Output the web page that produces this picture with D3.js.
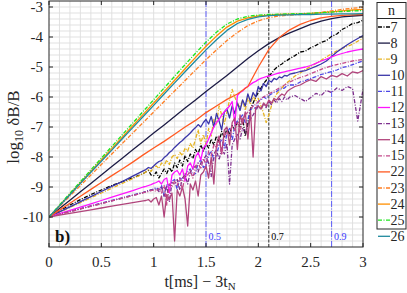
<!DOCTYPE html>
<html><head><meta charset="utf-8">
<script src="https://cdn.jsdelivr.net/npm/d3@7"></script>
<style>body{margin:0;background:#fff}svg{display:block}text{font-family:"Liberation Serif","DejaVu Serif",serif}</style>
</head><body><svg id="c" width="407" height="293"></svg>
<script>
const xTicks=[0,0.5,1,1.5,2,2.5,3];
const xTickLabels=["0","0.5","1","1.5","2","2.5","3"];
const yTicks=[-10,-9,-8,-7,-6,-5,-4,-3];
const yTickLabels=["-10","-9","-8","-7","-6","-5","-4","-3"];
const markers=[1.5,2.1,2.7];
const markerLabels=["0.5","0.7","0.9"];
const seriesNames=["7","8","9","10","11","12","13","14","15","22","23","24","25","26"];

const tSmooth=[0,0.1,0.2,0.3,0.4,0.5,0.6,0.7,0.8,0.9,1.0,1.1,1.2,1.3,1.4,1.5,1.6,1.7,1.8,1.9,2.0,2.1,2.2,2.3,2.4,2.5,2.6,2.7,2.8,2.9,3.0];
const tNoisy=[0,0.1,0.2,0.3,0.4,0.5,0.6,0.7,0.8,0.9,
 0.925,0.95,0.975,1.0, 1.025,1.05,1.075,1.1, 1.125,1.15,1.175,1.2, 1.225,1.25,1.275,1.3,
 1.325,1.35,1.375,1.4, 1.425,1.45,1.475,1.5, 1.525,1.55,1.575,1.6, 1.625,1.65,1.675,1.7,
 1.725,1.75,1.775,1.8, 1.825,1.85,1.875,1.9, 1.925,1.95,1.975,2.0, 2.025,2.05,2.075,2.1,
 2.125,2.15,2.175,2.2, 2.225,2.25,2.275,2.3,
 2.35,2.4,2.45,2.5,2.55,2.6,2.65,2.7,2.75,2.8,2.85,2.9,2.95,3.0];

const n7=[-10,-9.8,-9.6,-9.42,-9.25,-9.1,-8.95,-8.82,-8.7,-8.55,
 -8.5,-8.45,-8.6,-8.62, -8.5,-8.7,-8.55,-8.4, -8.55,-8.35,-8.5,-8.2, -8.35,-8.1,-8.3,-7.95,
 -8.15,-7.9,-8.05,-7.75, -7.9,-7.6,-7.8,-7.55, -7.7,-7.4,-7.6,-7.3, -7.5,-7.15,-7.35,-7.05,
 -7.25,-6.95,-7.1,-6.8, -7.0,-6.7,-7.3,-6.9, -6.4,-6.2,-6.0,-5.85, -5.7,-5.55,-5.45,-5.3,
 -5.22,-5.1,-5.02,-4.95, -4.9,-4.82,-4.78,-4.72,
 -4.62,-4.5,-4.47,-4.36,-4.28,-4.18,-4.12,-3.98,-3.9,-3.75,-3.66,-3.55,-3.52,-3.44];
const n9=[-10,-9.84,-9.68,-9.52,-9.36,-9.2,-9.04,-8.88,-8.72,-8.56,
 -8.5,-8.42,-8.48,-8.35, -8.3,-8.38,-8.2,-8.28, -8.1,-8.25,-8.0,-7.92, -8.05,-7.85,-7.95,-7.7,
 -7.8,-7.55,-7.7,-7.4, -7.1,-7.55,-7.25,-7.6, -7.05,-7.3,-6.75,-6.9, -6.3,-6.6,-6.9,-6.5,
 -6.1,-5.75,-6.0,-6.2, -6.35,-6.1,-6.45,-6.0, -6.25,-5.95,-6.15,-6.05, -6.3,-6.55,-6.85,-6.6,
 -6.3,-6.05,-5.9,-5.8, -5.7,-5.6,-5.52,-5.45,
 -5.3,-5.2,-5.08,-4.98,-4.88,-4.78,-4.66,-4.56,-4.46,-4.38,-4.32,-4.24,-4.14,-4.05];
const n10=[-10,-9.83,-9.66,-9.49,-9.32,-9.15,-8.98,-8.82,-8.64,-8.46,
 -8.42,-8.35,-8.38,-8.3, -8.22,-8.15,-8.12,-8.02, -7.95,-7.85,-7.78,-7.68, -7.6,-7.52,-7.45,-7.36,
 -7.28,-7.2,-7.1,-7.02, -6.92,-7.0,-6.85,-6.75, -6.9,-6.65,-7.0,-6.55, -6.8,-7.1,-6.5,-6.4,
 -6.7,-6.3,-6.55,-6.2, -6.45,-6.1,-6.3,-5.9, -6.15,-5.85,-6.0,-5.65, -5.8,-5.55,-5.65,-5.45,
 -5.5,-5.38,-5.42,-5.33, -5.36,-5.28,-5.3,-5.24,
 -5.2,-5.15,-5.12,-5.05,-4.98,-4.9,-4.8,-4.65,-4.5,-4.38,-4.26,-4.15,-4.05,-3.95];
const n11=[-10,-9.9,-9.81,-9.72,-9.63,-9.54,-9.45,-9.36,-9.27,-9.18,
 -9.15,-9.12,-9.1,-9.06, -9.02,-9.1,-8.95,-9.3, -8.9,-8.95,-8.8,-8.75, -9.1,-8.7,-8.75,-8.6,
 -8.5,-8.4,-8.6,-8.55, -8.2,-8.1,-8.35,-8.3, -7.95,-7.8,-8.1,-7.95, -7.6,-7.4,-7.7,-7.2,
 -7.05,-7.45,-6.95,-6.8, -6.7,-6.6,-6.85,-6.75, -6.45,-6.3,-6.4,-6.15, -6.1,-6.0,-6.05,-5.95,
 -5.9,-5.85,-5.82,-5.75, -5.72,-5.7,-5.62,-5.6,
 -5.6,-5.5,-5.45,-5.38,-5.32,-5.25,-5.2,-5.15,-5.1,-5.02,-4.98,-4.92,-4.86,-4.8];
const n12=[-10,-9.89,-9.78,-9.67,-9.56,-9.45,-9.34,-9.23,-9.12,-9.0,
 -8.98,-8.95,-8.92,-8.88, -8.85,-8.8,-8.9,-8.75, -8.7,-9.2,-8.6,-8.5, -8.45,-8.6,-8.4,-8.8,
 -8.3,-8.2,-8.4,-8.0, -7.85,-8.1,-7.7,-7.6, -7.4,-7.2,-7.0,-6.85, -6.75,-6.6,-6.5,-6.4,
 -6.3,-6.15,-6.9,-5.95, -5.85,-5.8,-5.7,-5.65, -5.58,-5.52,-5.48,-5.42, -5.38,-5.35,-5.32,-5.3,
 -5.28,-5.25,-5.22,-5.2, -5.18,-5.16,-5.14,-5.12,
 -5.08,-5.04,-5.0,-4.95,-4.88,-4.8,-4.74,-4.66,-4.6,-4.55,-4.5,-4.46,-4.43,-4.4];
const n13=[-10,-9.91,-9.82,-9.73,-9.64,-9.55,-9.46,-9.37,-9.28,-9.19,
 -9.15,-9.12,-9.1,-9.1, -9.05,-9.15,-9.0,-9.3, -8.95,-9.5,-8.85,-8.9, -8.75,-9.1,-8.7,-8.6,
 -8.9,-8.5,-8.4,-8.3, -8.5,-8.2,-8.1,-7.95, -8.2,-8.65,-7.9,-7.75, -8.1,-7.7,-7.9,-7.55,
 -8.9,-7.6,-7.4,-7.25, -7.4,-7.05,-7.2,-6.9, -6.75,-6.6,-6.45,-6.3, -6.4,-6.25,-6.35,-6.15,
 -6.25,-6.1,-6.2,-6.05, -6.15,-6.0,-6.1,-6.0,
 -5.95,-6.05,-6.15,-6.02,-5.88,-5.95,-5.78,-5.85,-5.7,-5.78,-5.65,-5.72,-6.8,-5.75];
const n14=[-10,-9.94,-9.88,-9.82,-9.76,-9.7,-9.64,-9.58,-9.52,-9.46,
 -9.45,-9.42,-9.5,-9.4, -9.35,-9.6,-9.3,-10.0, -9.25,-9.4,-9.2,-10.8, -9.1,-9.3,-9.0,-9.4,
 -10.3,-8.9,-9.1,-8.8, -9.3,-8.6,-8.5,-8.3, -8.7,-8.0,-8.9,-7.6, -7.3,-7.9,-7.1,-7.0,
 -7.6,-6.85,-6.7,-7.75, -6.6,-6.9,-6.5,-7.4, -6.45,-8.0,-6.35,-6.3, -6.4,-6.2,-6.3,-6.1,
 -6.2,-6.05,-6.1,-5.98, -5.9,-5.95,-5.82,-5.75,
 -5.65,-5.6,-5.5,-5.42,-5.48,-5.32,-5.4,-5.28,-5.33,-5.22,-5.3,-5.16,-5.2,-5.12];
const n15=[-10,-9.91,-9.82,-9.73,-9.64,-9.55,-9.46,-9.37,-9.28,-9.19,
 -9.17,-9.15,-9.12,-9.1, -9.15,-9.05,-9.2,-8.95, -9.6,-8.9,-9.0,-8.8, -8.95,-8.7,-9.1,-8.55,
 -8.6,-8.45,-8.7,-8.35, -8.2,-8.4,-8.05,-8.25, -7.8,-7.95,-7.6,-7.7, -7.45,-7.9,-7.3,-7.15,
 -7.3,-6.95,-7.1,-6.85, -7.2,-6.7,-6.6,-6.5, -6.4,-6.3,-6.25,-6.15, -6.05,-6.0,-5.95,-5.9,
 -5.85,-5.8,-5.75,-5.7, -5.65,-5.6,-5.55,-5.5,
 -5.42,-5.35,-5.3,-5.22,-5.15,-5.08,-5.02,-4.96,-4.92,-4.88,-4.84,-4.8,-4.77,-4.75];

const n8=[-10,-9.72,-9.44,-9.16,-8.88,-8.6,-8.32,-8.04,-7.76,-7.48,-7.2,-6.93,-6.65,-6.37,-6.1,-5.82,-5.55,-5.28,-5.0,-4.72,-4.46,-4.22,-4.02,-3.86,-3.72,-3.58,-3.47,-3.39,-3.33,-3.3,-3.28];
const n22=[-10,-9.77,-9.54,-9.31,-9.08,-8.85,-8.62,-8.4,-8.17,-7.93,-7.7,-7.48,-7.24,-7.0,-6.78,-6.52,-6.3,-6.08,-5.9,-5.65,-5.0,-4.42,-4.02,-3.76,-3.58,-3.45,-3.36,-3.31,-3.28,-3.26,-3.25];
const n23=[-10,-9.65,-9.3,-8.95,-8.6,-8.25,-7.9,-7.55,-7.2,-6.85,-6.5,-6.15,-5.8,-5.45,-5.1,-4.76,-4.43,-4.12,-3.85,-3.62,-3.46,-3.36,-3.3,-3.27,-3.25,-3.22,-3.18,-3.13,-3.08,-3.04,-3.01];
const n24=[-10,-9.62,-9.24,-8.86,-8.48,-8.1,-7.72,-7.34,-6.96,-6.58,-6.2,-5.82,-5.44,-5.06,-4.68,-4.31,-3.97,-3.67,-3.47,-3.36,-3.3,-3.27,-3.25,-3.24,-3.23,-3.21,-3.19,-3.16,-3.13,-3.1,-3.08];
const n25=[-10,-9.6,-9.21,-8.82,-8.43,-8.04,-7.65,-7.26,-6.87,-6.48,-6.09,-5.7,-5.31,-4.92,-4.54,-4.17,-3.84,-3.57,-3.4,-3.31,-3.27,-3.25,-3.24,-3.23,-3.22,-3.21,-3.19,-3.17,-3.15,-3.13,-3.12];
const n26=[-10,-9.63,-9.26,-8.88,-8.51,-8.14,-7.77,-7.39,-7.02,-6.65,-6.28,-5.9,-5.53,-5.16,-4.79,-4.43,-4.09,-3.78,-3.55,-3.41,-3.33,-3.29,-3.27,-3.26,-3.25,-3.25,-3.24,-3.24,-3.23,-3.23,-3.22];

const seriesVals=[n7,n8,n9,n10,n11,n12,n13,n14,n15,n22,n23,n24,n25,n26];
const seriesT=[tNoisy,tSmooth,tNoisy,tNoisy,tNoisy,tNoisy,tNoisy,tNoisy,tNoisy,tSmooth,tSmooth,tSmooth,tSmooth,tSmooth];
const colors=["#000000","#1c1b45","#e6b422","#3a36a8","#4c46e6","#ff14ff","#7e2f8e","#b1457c","#c4498a","#ff5a22","#ff7f24","#ff8f00","#1ee61e","#1f8a9e"];
const dashed=[true,false,true,false,true,false,true,false,true,false,true,false,true,false];

const svg=d3.select("#c");
const L=49,R=363,T=1,B=247;
const x=d3.scaleLinear().domain([0,3]).range([L,R]);
const y=d3.scaleLinear().domain([-11,-2.8]).range([B,T]);

svg.append("defs").append("clipPath").attr("id","clip").append("rect").attr("x",L).attr("y",T).attr("width",R-L).attr("height",B-T);

const g=svg.append("g");
d3.range(0.1,3,0.1).forEach(v=>g.append("line").attr("x1",x(v)).attr("x2",x(v)).attr("y1",T).attr("y2",B).attr("stroke","#dedede").attr("stroke-width",0.9));
d3.range(-10.8,-2.85,0.2).forEach(v=>g.append("line").attr("x1",L).attr("x2",R).attr("y1",y(v)).attr("y2",y(v)).attr("stroke","#dedede").attr("stroke-width",0.9));

const mg=svg.append("g");
markers.forEach((m,i)=>{
  const col=i==1?"#000":"#3a3aff";
  mg.append("line").attr("x1",x(m)).attr("x2",x(m)).attr("y1",T).attr("y2",B).attr("stroke",col).attr("stroke-width",0.8).attr("stroke-dasharray",i==1?"3,1.5":"6,1.5,1,1.5");
  mg.append("text").attr("x",x(m)+2.5).attr("y",240).attr("font-size",10).attr("fill",col).text(markerLabels[i]);
});

const line=d3.line().x(d=>x(d[0])).y(d=>y(d[1]));
const sg=svg.append("g").attr("clip-path","url(#clip)");
seriesVals.forEach((vals,i)=>{
  const pts=vals.map((v,j)=>[seriesT[i][j],v]);
  sg.append("path").attr("d",line(pts)).attr("fill","none").attr("stroke",colors[i]).attr("stroke-width",1.3)
    .attr("stroke-linejoin","round").attr("stroke-dasharray",dashed[i]?"4,1.5,1,1.5":null);
});

svg.append("rect").attr("x",L).attr("y",T).attr("width",R-L).attr("height",B-T).attr("fill","none").attr("stroke","#262626").attr("stroke-width",1);
const tk=svg.append("g").attr("stroke","#262626").attr("stroke-width",1);
xTicks.forEach(v=>{tk.append("line").attr("x1",x(v)).attr("x2",x(v)).attr("y1",B).attr("y2",B-4);tk.append("line").attr("x1",x(v)).attr("x2",x(v)).attr("y1",T).attr("y2",T+4);});
yTicks.forEach(v=>{tk.append("line").attr("x1",L).attr("x2",L+4).attr("y1",y(v)).attr("y2",y(v));tk.append("line").attr("x1",R).attr("x2",R-4).attr("y1",y(v)).attr("y2",y(v));});
xTicks.forEach((v,i)=>svg.append("text").attr("x",x(v)).attr("y",267).attr("text-anchor","middle").attr("font-size",15).attr("fill","#262626").text(xTickLabels[i]));
yTicks.forEach((v,i)=>svg.append("text").attr("x",43).attr("y",y(v)+5).attr("text-anchor","end").attr("font-size",15).attr("fill","#262626").text(yTickLabels[i]));

const xl=svg.append("text").attr("x",200).attr("y",287).attr("text-anchor","middle").attr("font-size",16).attr("fill","#262626");
xl.append("tspan").text("t[ms] \u2212 3t");
xl.append("tspan").attr("font-size",11).attr("dy",3).text("N");
const yl=svg.append("text").attr("transform","translate(19,127) rotate(-90)").attr("text-anchor","middle").attr("font-size",17).attr("fill","#262626");
yl.append("tspan").text("log");
yl.append("tspan").attr("font-size",12).attr("dy",4).text("10");
yl.append("tspan").attr("dy",-4).text(" \u03b4B/B");

svg.append("text").attr("x",55).attr("y",242).attr("font-size",17).attr("font-weight","bold").attr("fill","#111").text("b)");

const lg=svg.append("g");
lg.append("rect").attr("x",377).attr("y",2.5).attr("width",29).attr("height",226.5).attr("fill","#fff").attr("stroke","#262626").attr("stroke-width",1);
lg.append("line").attr("x1",377).attr("x2",406).attr("y1",18.5).attr("y2",18.5).attr("stroke","#262626").attr("stroke-width",1);
lg.append("text").attr("x",391.5).attr("y",14.5).attr("text-anchor","middle").attr("font-size",14).attr("fill","#262626").text("n");
seriesNames.forEach((nm,i)=>{
  const yy=27+i*16.1;
  lg.append("line").attr("x1",378).attr("x2",390).attr("y1",yy).attr("y2",yy).attr("stroke",colors[i]).attr("stroke-width",1.3).attr("stroke-dasharray",dashed[i]?"4,1.5,1,1.5":null);
  lg.append("text").attr("x",390.5).attr("y",yy+4.5).attr("font-size",14).attr("fill","#262626").text(nm);
});
</script></body></html>
